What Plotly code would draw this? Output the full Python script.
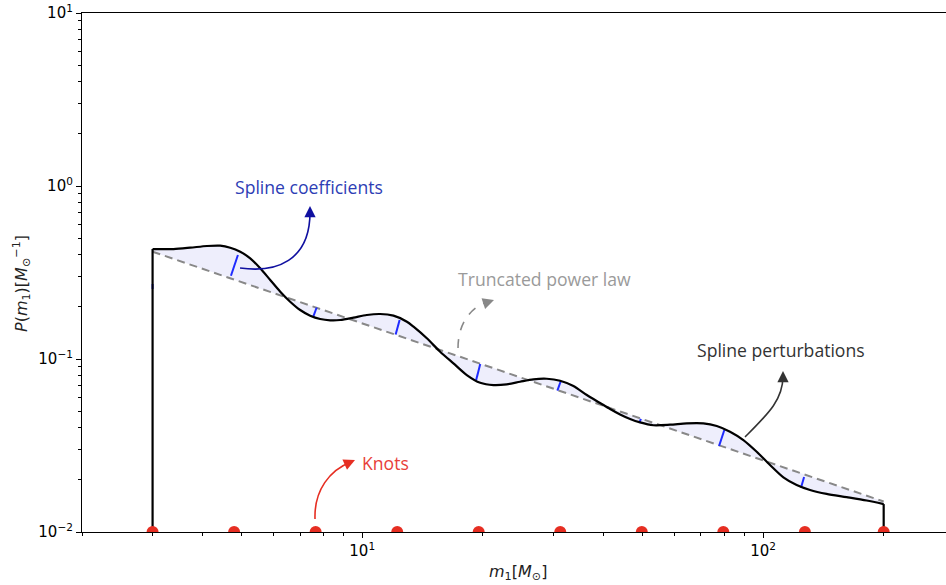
import plotly.graph_objects as go

# ---------------- data ----------------
knots_m = [3.0, 4.792, 7.654, 12.23, 19.53, 31.20, 49.84, 79.61, 127.2, 200.0]

powerlaw_m = [3.0, 200.0]
powerlaw_p = [0.417, 0.0150]

curve_m = [3.0, 3.383, 3.724, 4.10, 4.424, 4.687, 4.963, 5.257, 5.568, 5.896,
           6.246, 6.612, 7.004, 7.418, 7.858, 8.321, 8.812, 9.512, 10.27, 11.09,
           11.97, 12.93, 13.43, 14.50, 15.65, 16.89, 18.24, 19.70, 21.26, 22.95,
           24.77, 26.74, 28.88, 31.17, 33.65, 36.35, 39.22, 41.54, 44.0, 46.6,
           49.35, 53.26, 58.63, 64.52, 71.0, 76.66, 82.74, 89.33, 96.45, 104.1,
           112.4, 121.3, 131.0, 144.1, 161.7, 181.4, 200.0]
curve_p = [0.432, 0.432, 0.440, 0.450, 0.452, 0.440, 0.417, 0.382, 0.3345, 0.2862,
           0.2449, 0.2144, 0.1919, 0.178, 0.1703, 0.1674, 0.168, 0.1733, 0.1796, 0.182,
           0.178, 0.1643, 0.1537, 0.1317, 0.1102, 0.0944, 0.0808, 0.0729, 0.0707, 0.0714,
           0.0739, 0.0763, 0.0769, 0.0749, 0.0698, 0.0619, 0.0557, 0.0514, 0.0478, 0.0450,
           0.0430, 0.0414, 0.0417, 0.0425, 0.0425, 0.041, 0.038, 0.034, 0.0291, 0.0244,
           0.0207, 0.0187, 0.0175, 0.0166, 0.0159, 0.0152, 0.0145]
floor_p = 0.01

# spline coefficient segments: (m_start, p_start) -> (m_end, p_end)
coef_m0 = [3.0, 4.706, 7.70, 12.12, 19.70, 30.69, 49.58, 77.69, 126.6]
coef_p0 = [0.2714, 0.303, 0.1985, 0.1385, 0.0936, 0.0656, 0.0450, 0.0314, 0.02078]
coef_m1 = [3.0, 4.898, 7.55, 12.40, 19.25, 31.30, 49.15, 80.08, 124.4]
coef_p1 = [0.254, 0.399, 0.1756, 0.168, 0.0756, 0.0746, 0.0428, 0.0389, 0.01804]

x_tickvals = [10, 100]
x_ticktext = ["10<sup>1</sup>", "10<sup>2</sup>"]
y_tickvals = [0.01, 0.1, 1, 10]
y_ticktext = ["10<sup>−2</sup>", "10<sup>−1</sup>", "10<sup>0</sup>", "10<sup>1</sup>"]
x_minor = [2, 3, 4, 5, 6, 7, 8, 9, 20, 30, 40, 50, 60, 70, 80, 90, 200, 300]
y_minor = [m * 10.0 ** e for e in (-2, -1, 0) for m in range(2, 10)]

# ---------------- figure ----------------
FONT = "DejaVu Sans"
ANN_FONT = "Open Sans"

fig = go.Figure()

# base for the fill
fig.add_trace(go.Scatter(x=powerlaw_m, y=powerlaw_p, mode="lines",
                         line=dict(width=0, color="rgba(0,0,0,0)"),
                         showlegend=False, hoverinfo="skip"))
# fill between power law and spline curve
fig.add_trace(go.Scatter(x=curve_m, y=curve_p, mode="lines",
                         line=dict(width=0, color="rgba(0,0,0,0)", shape="spline", smoothing=0.8),
                         fill="tonexty", fillcolor="rgba(120,120,235,0.13)",
                         showlegend=False, hoverinfo="skip"))
# dashed power law
fig.add_trace(go.Scatter(x=powerlaw_m, y=powerlaw_p, mode="lines",
                         line=dict(width=2, color="#888888", dash="8px,5px"),
                         showlegend=False))
# blue coefficient segments
sx, sy = [], []
for a, b, c, d in zip(coef_m0, coef_p0, coef_m1, coef_p1):
    sx += [a, c, None]
    sy += [b, d, None]
fig.add_trace(go.Scatter(x=sx, y=sy, mode="lines",
                         line=dict(width=2, color="#1f2bff"), showlegend=False))
# black spline curve
fig.add_trace(go.Scatter(x=curve_m, y=curve_p, mode="lines",
                         line=dict(width=2.2, color="black", shape="spline", smoothing=0.8),
                         showlegend=False))
# vertical truncation edges
fig.add_trace(go.Scatter(x=[curve_m[0], curve_m[0], None, curve_m[-1], curve_m[-1]],
                         y=[floor_p, curve_p[0], None, curve_p[-1], floor_p],
                         mode="lines", line=dict(width=2.2, color="black"), showlegend=False))
# knots
fig.add_trace(go.Scatter(x=knots_m, y=[floor_p] * len(knots_m), mode="markers",
                         marker=dict(size=12, color="#e62e22"), showlegend=False))

# ---------------- layout ----------------
W, H = 946, 585
L, R, T, B = 82, 0, 13, 53
PW, PH = W - L - R, H - T - B


def px(xp):
    return (xp - L) / PW


def py(yp):
    return (H - B - yp) / PH


fig.update_layout(
    width=W, height=H, margin=dict(l=L, r=R, t=T, b=B),
    paper_bgcolor="white", plot_bgcolor="white",
    font=dict(family=FONT, size=15, color="black"),
    xaxis=dict(type="log", range=[0.30103, 2.4565], showgrid=False, zeroline=False,
               showline=True, linecolor="black", linewidth=1.2, mirror=True,
               ticks="outside", ticklen=5, tickwidth=1.2, tickcolor="black",
               tickvals=x_tickvals, ticktext=x_ticktext,
               tickfont=dict(family=FONT, size=15),
               minor=dict(ticks="outside", ticklen=3, tickwidth=1, tickcolor="black",
                          tickvals=x_minor, showgrid=False)),
    yaxis=dict(type="log", range=[-2, 1], showgrid=False, zeroline=False,
               showline=True, linecolor="black", linewidth=1.2,
               ticks="outside", ticklen=5, tickwidth=1.2, tickcolor="black",
               tickvals=y_tickvals, ticktext=y_ticktext,
               tickfont=dict(family=FONT, size=15),
               minor=dict(ticks="outside", ticklen=3, tickwidth=1, tickcolor="black",
                          tickvals=y_minor, showgrid=False)),
)

ANN_SIZE = 17.6
annotations = [
    dict(x=px(518), y=py(572), text="<i>m</i><sub>1</sub>[<i>M</i><sub>⊙</sub>]",
         font=dict(family=FONT, size=16, color="#222")),
    dict(x=px(21), y=py(284), text="<i>P</i>(<i>m</i><sub>1</sub>)[<i>M</i><sub>⊙</sub><sup>−1</sup>]",
         textangle=-90, font=dict(family=FONT, size=16, color="#222")),
    dict(x=px(309), y=py(187), text="Spline coefficients",
         font=dict(family=ANN_FONT, size=ANN_SIZE, color="#2d3db5")),
    dict(x=px(544), y=py(279), text="Truncated power law",
         font=dict(family=ANN_FONT, size=ANN_SIZE, color="#9a9a9a")),
    dict(x=px(781), y=py(350), text="Spline perturbations",
         font=dict(family=ANN_FONT, size=ANN_SIZE, color="#333333")),
    dict(x=px(360), y=py(463), text="Knots", xanchor="left",
         font=dict(family=ANN_FONT, size=ANN_SIZE, color="#e8403a")),
]
for a in annotations:
    a.update(xref="paper", yref="paper", showarrow=False)
    a.setdefault("xanchor", "center")
    a.setdefault("yanchor", "middle")

# arrowheads
heads = [
    (310, 206, 0, 8, "#1010a0"),
    (494, 300, -9, 3, "#888888"),
    (783, 371, 0, 8, "#333333"),
    (355, 460, -9, 4, "#e62e22"),
]
for hx, hy, ax, ay, col in heads:
    annotations.append(dict(x=px(hx), y=py(hy), xref="paper", yref="paper", text="",
                            showarrow=True, ax=ax, ay=ay, arrowhead=2, arrowsize=1.5,
                            arrowwidth=1.5, arrowcolor=col, standoff=0))
fig.update_layout(annotations=annotations)


def bez(p0, c1, c2, p1):
    f = lambda p: f"{px(p[0]):.4f},{py(p[1]):.4f}"
    return f"M {f(p0)} C {f(c1)} {f(c2)} {f(p1)}"


arrows = [
    (bez((240, 268), (275, 273), (311, 262), (310, 210)), "#1010a0", "solid"),
    (bez((458, 348), (458, 322), (472, 306), (490, 301)), "#888888", "dash"),
    (bez((745, 437), (768, 414), (783, 400), (783, 376)), "#333333", "solid"),
    (bez((315, 519), (314, 490), (330, 470), (351, 462)), "#e62e22", "solid"),
]
for path, col, dash in arrows:
    fig.add_shape(type="path", path=path, xref="paper", yref="paper",
                  line=dict(color=col, width=1.6, dash=dash))

fig.write_html("out.html")
